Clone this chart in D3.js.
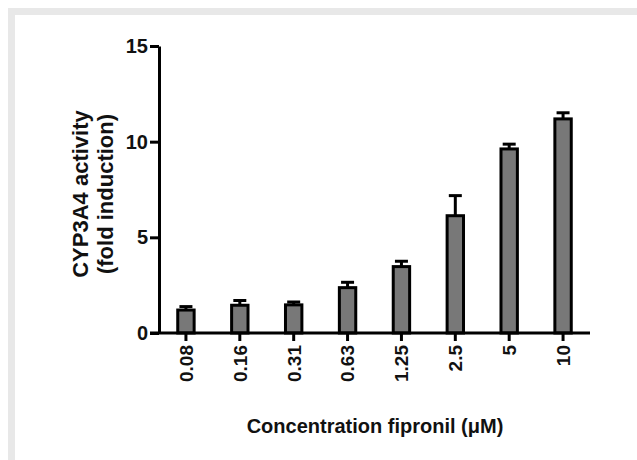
<!DOCTYPE html>
<html lang="en">
<head>
    <meta charset="UTF-8">
    <title>CYP3A4 activity - fipronil</title>
    <script src="https://d3js.org/d3.v7.min.js"></script>
    <style>
        body { margin: 0; background: #fff; }
        text { font-family: "Liberation Sans", Arial, sans-serif; font-weight: bold; fill: #111; }
    </style>
</head>
<body>
    <div id="chart"></div>
    <script>
        const concentrations = ["0.08", "0.16", "0.31", "0.63", "1.25", "2.5", "5", "10"];
        const foldInduction = [1.2, 1.45, 1.47, 2.37, 3.47, 6.13, 9.62, 11.19];
        const sem = [0.18, 0.25, 0.15, 0.28, 0.28, 1.05, 0.25, 0.32];
        const yTicks = [0, 5, 10, 15];

        const width = 637;
        const height = 460;

        const svg = d3.select("#chart").append("svg")
            .attr("width", width)
            .attr("height", height);

        // grey frame on top and left like the source figure
        svg.append("rect").attr("x", 8).attr("y", 8)
            .attr("width", width - 8).attr("height", height - 8)
            .attr("fill", "#e8e8e8");
        svg.append("rect").attr("x", 15).attr("y", 15)
            .attr("width", width - 15).attr("height", height - 15)
            .attr("fill", "#fff");

        const x = d3.scaleBand()
            .domain(concentrations)
            .range([159, 590])
            .paddingInner(0.64)
            .paddingOuter(0.32);

        const y = d3.scaleLinear()
            .domain([0, 15])
            .range([333, 46]);

        const data = concentrations.map((c, i) => ({ c, v: foldInduction[i], e: sem[i] }));

        // error bars (upper only)
        const err = svg.append("g");
        err.selectAll("line.stem")
            .data(data)
            .enter().append("line")
            .attr("x1", d => x(d.c) + x.bandwidth() / 2)
            .attr("x2", d => x(d.c) + x.bandwidth() / 2)
            .attr("y1", d => y(d.v))
            .attr("y2", d => y(d.v + d.e))
            .attr("stroke", "#000")
            .attr("stroke-width", 3);
        err.selectAll("line.cap")
            .data(data)
            .enter().append("line")
            .attr("x1", d => x(d.c) + x.bandwidth() / 2 - 6.5)
            .attr("x2", d => x(d.c) + x.bandwidth() / 2 + 6.5)
            .attr("y1", d => y(d.v + d.e))
            .attr("y2", d => y(d.v + d.e))
            .attr("stroke", "#000")
            .attr("stroke-width", 3);

        svg.append("g")
            .selectAll("rect")
            .data(data)
            .enter().append("rect")
            .attr("x", d => x(d.c) + 1.5)
            .attr("y", d => y(d.v))
            .attr("width", x.bandwidth() - 3)
            .attr("height", d => y(0) - y(d.v))
            .attr("fill", "#787878")
            .attr("stroke", "#000")
            .attr("stroke-width", 3);

        // y axis
        const yAxis = svg.append("g")
            .attr("transform", "translate(159,0)")
            .call(d3.axisLeft(y).tickValues(yTicks).tickSize(9).tickSizeOuter(0).tickPadding(2));
        yAxis.select(".domain").attr("stroke", "#000").attr("stroke-width", 3);
        yAxis.selectAll(".tick line").attr("stroke", "#000").attr("stroke-width", 3);
        yAxis.selectAll(".tick text")
            .style("font-size", "20px")
            .attr("fill", "#111");

        // x axis
        const xAxis = svg.append("g")
            .attr("transform", "translate(0,333)")
            .call(d3.axisBottom(x).tickSize(8).tickSizeOuter(0));
        xAxis.select(".domain").attr("d", "M150,0H590").attr("stroke", "#000").attr("stroke-width", 3);
        xAxis.selectAll(".tick line").attr("stroke", "#000").attr("stroke-width", 3);
        xAxis.selectAll(".tick text")
            .style("font-size", "19px")
            .attr("fill", "#111")
            .attr("text-anchor", "end")
            .attr("transform", "rotate(-90)")
            .attr("x", -12)
            .attr("y", 0)
            .attr("dy", "0.36em");

        // axis titles
        svg.append("text")
            .attr("x", 375)
            .attr("y", 433)
            .attr("text-anchor", "middle")
            .style("font-size", "20px")
            .text("Concentration fipronil (\u03bcM)");

        const yTitle = svg.append("text")
            .attr("transform", "translate(88,194) rotate(-90)")
            .attr("text-anchor", "middle")
            .style("font-size", "22px");
        yTitle.append("tspan").attr("x", 0).attr("y", 0).text("CYP3A4 activity");
        yTitle.append("tspan").attr("x", 0).attr("y", 25).text("(fold induction)");
    </script>
</body>
</html>
